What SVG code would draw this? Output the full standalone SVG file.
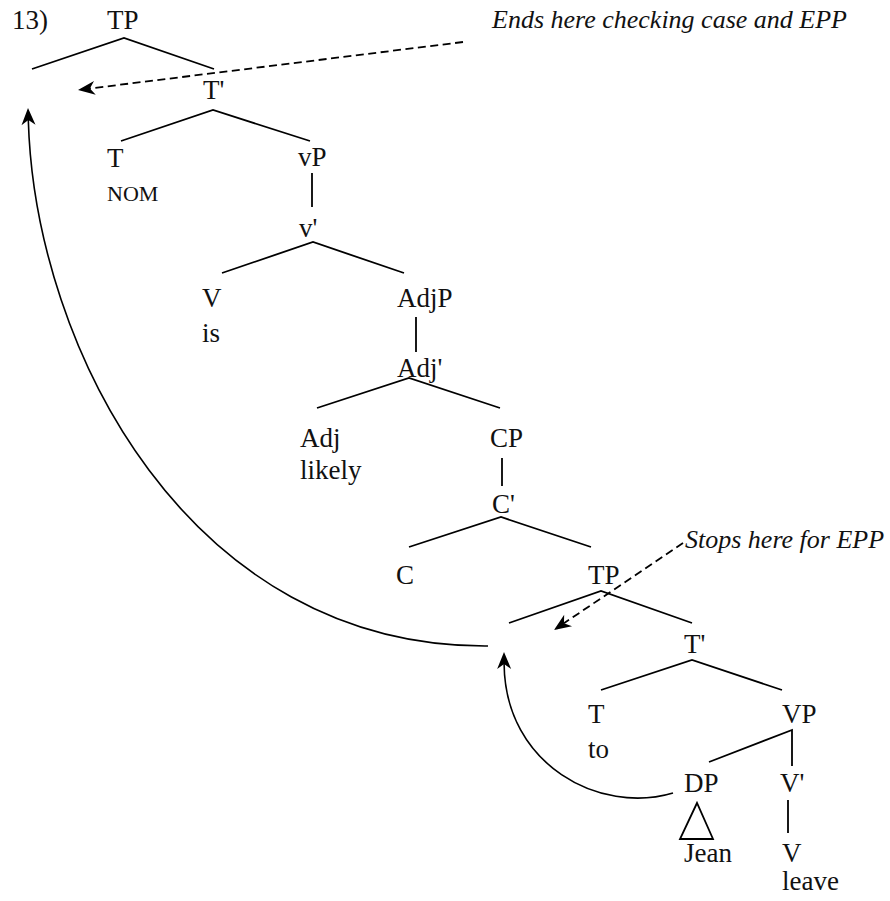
<svg xmlns="http://www.w3.org/2000/svg" width="890" height="901" viewBox="0 0 890 901">
<style>
  text { font-family: "Liberation Serif", "DejaVu Serif", "Times New Roman", serif; font-size: 27px; fill: #111; }
  .it { font-style: italic; font-size: 26px; }
  .sc { font-size: 22px; }
  .br { stroke: #000; stroke-width: 1.8; fill: none; stroke-linecap: butt; }
  .mv { stroke: #000; stroke-width: 1.6; fill: none; }
  .ds { stroke: #000; stroke-width: 1.8; fill: none; stroke-dasharray: 8 4.5; }
  .hd { fill: #000; stroke: none; }
</style>
<defs>
  <path id="head" d="M0,0 L-17,-7 L-12,0 L-17,7 Z"/>
</defs>
<rect width="890" height="901" fill="#fff"/>
<text id="num" x="12" y="29">13)</text>

<g id="branches" class="br">
  <polyline points="32,69 124,38 214,69"/>
  <polyline points="121,141 213,110 310,141"/>
  <line x1="312" y1="173" x2="312" y2="207"/>
  <polyline points="222,273 313,242 404,273"/>
  <line x1="416" y1="317" x2="416" y2="352"/>
  <polyline points="317,408 409,378 500,408"/>
  <line x1="502" y1="458" x2="502" y2="486"/>
  <polyline points="409,547 501,517 591,547"/>
  <polyline points="509,623 601,591 692,623"/>
  <polyline points="601,690 692,660 782,690"/>
  <polyline points="709,762 792,730 792,766"/>
  <polygon points="697,803 680,839 713,839"/>
  <line x1="788" y1="800" x2="788" y2="833"/>
</g>

<g id="n-tp1"><text x="107" y="29">TP</text></g>
<g id="n-tbar1"><text x="203" y="99">T'</text></g>
<g id="n-t1"><text x="107" y="167">T</text><text class="sc" x="107" y="201">NOM</text></g>
<g id="n-vp"><text x="298" y="166">vP</text></g>
<g id="n-vbar"><text x="299" y="237">v'</text></g>
<g id="n-v1"><text x="202" y="307">V</text><text x="202" y="342">is</text></g>
<g id="n-adjp"><text x="397" y="307">AdjP</text></g>
<g id="n-adjbar"><text x="397" y="377">Adj'</text></g>
<g id="n-adj"><text x="300" y="447">Adj</text><text x="300" y="479">likely</text></g>
<g id="n-cp"><text x="490" y="447">CP</text></g>
<g id="n-cbar"><text x="492" y="513">C'</text></g>
<g id="n-c"><text x="396" y="584">C</text></g>
<g id="n-tp2"><text x="588" y="584">TP</text></g>
<g id="n-tbar2"><text x="684" y="653">T'</text></g>
<g id="n-t2"><text x="588" y="723">T</text><text x="588" y="758">to</text></g>
<g id="n-vp2"><text x="782" y="723">VP</text></g>
<g id="n-dp"><text x="684" y="792">DP</text><text x="684" y="862">Jean</text></g>
<g id="n-vbar2"><text x="780" y="792">V'</text></g>
<g id="n-v2"><text x="782" y="862">V</text><text x="782" y="890">leave</text></g>

<g id="note1"><text class="it" x="492" y="28">Ends here checking case and EPP</text></g>
<g id="note2"><text class="it" x="685" y="548">Stops here for EPP</text></g>

<g id="connectors">
  <path class="mv" d="M488,646 C190,648 35,350 28.3,120"/>
  <use href="#head" class="hd" transform="translate(28,108) rotate(-91.7)"/>
  <path class="mv" d="M673,793 C600,815 505,765 504.1,664"/>
  <use href="#head" class="hd" transform="translate(504,652) rotate(-90.5)"/>
  <path class="ds" d="M463,42 L89.9,88.5"/>
  <use href="#head" class="hd" transform="translate(78,90) rotate(172.9)"/>
  <path class="ds" d="M683,543 L563.9,623.3"/>
  <use href="#head" class="hd" transform="translate(554,630) rotate(146)"/>
</g>
</svg>
